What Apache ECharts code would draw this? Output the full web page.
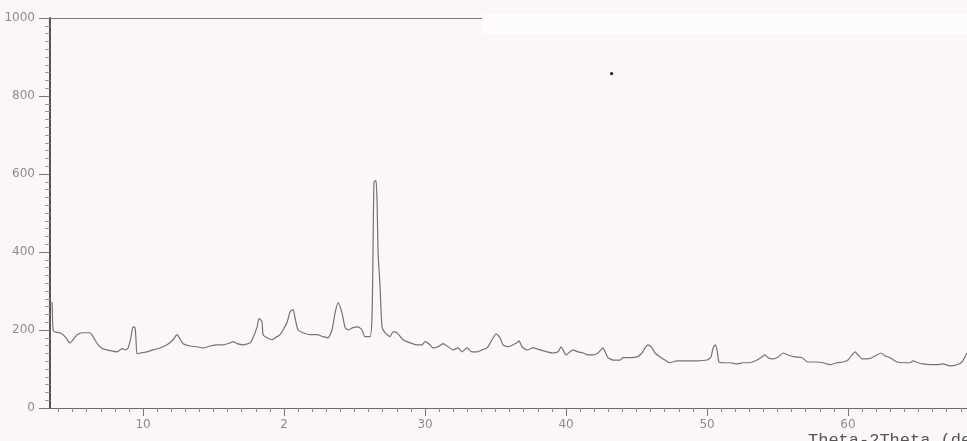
<!DOCTYPE html>
<html><head><meta charset="utf-8">
<script src="https://cdn.jsdelivr.net/npm/echarts@6/dist/echarts.min.js"></script>
<style>html,body{margin:0;padding:0;background:#fbf7f7;overflow:hidden}#c{width:967px;height:441px}</style>
</head><body><div id="c"></div>
<script>
const twoTheta = [3.55,3.62,3.76,4.11,4.47,4.82,5.04,5.32,5.74,6.24,6.45,6.81,7.16,7.66,8.16,8.51,8.72,8.94,9.15,9.29,9.43,9.50,9.57,9.79,10.28,10.71,11.21,11.70,12.13,12.41,12.62,12.84,13.33,13.83,14.26,14.75,15.25,15.67,16.17,16.38,16.67,17.09,17.59,17.80,18.09,18.23,18.44,18.51,18.79,19.15,19.50,19.72,19.93,20.21,20.43,20.64,20.78,20.99,21.35,21.84,22.34,22.77,23.12,23.40,23.62,23.83,24.11,24.33,24.54,24.89,25.25,25.53,25.74,26.10,26.24,26.31,26.38,26.52,26.60,26.67,26.81,26.95,27.16,27.52,27.73,28.01,28.44,28.94,29.43,29.79,30.00,30.35,30.57,30.92,31.28,31.63,31.99,32.34,32.62,32.98,33.33,33.69,34.04,34.40,34.75,35.04,35.32,35.53,35.89,36.24,36.52,36.67,36.88,37.23,37.66,38.16,38.65,39.08,39.43,39.65,39.79,40.00,40.28,40.50,40.85,41.21,41.56,41.91,42.27,42.62,42.77,42.98,43.33,43.83,44.04,44.54,45.04,45.39,45.60,45.82,46.10,46.31,46.67,47.02,47.38,47.87,48.58,49.29,50.00,50.28,50.43,50.57,50.71,50.85,51.13,51.63,52.13,52.55,53.05,53.55,53.90,54.11,54.33,54.68,55.04,55.39,55.74,56.24,56.74,57.16,57.80,58.23,58.72,59.22,59.65,60.00,60.28,60.50,60.71,60.99,61.35,61.70,62.06,62.34,62.62,62.98,63.48,63.90,64.40,64.61,64.96,65.32,65.82,66.31,66.74,67.23,67.73,68.09,68.30,68.44];
const intensity = [272,200,195,193,183,167,175,188,193,193,183,162,152,147,144,152,149,154,183,208,206,175,139,141,144,149,154,162,175,188,177,165,159,157,154,159,162,162,167,170,165,162,167,180,208,229,221,188,180,175,183,188,200,219,247,252,231,200,193,188,188,183,180,200,244,270,244,206,200,206,208,200,183,183,234,398,578,584,527,398,311,208,193,183,195,193,175,167,162,162,170,162,154,157,165,157,149,154,144,154,144,144,149,154,175,190,180,162,157,162,167,172,157,149,154,149,144,141,144,157,149,136,144,149,144,141,136,136,141,154,144,129,123,123,129,129,131,141,154,162,154,141,131,123,116,121,121,121,123,131,154,162,149,118,116,116,113,116,116,123,131,136,129,126,131,141,136,131,129,118,118,116,111,116,118,123,136,144,136,126,126,129,136,141,134,129,118,116,116,121,116,113,111,111,113,108,111,118,131,141];
const xMajorTicks = [10,20,30,40,50,60];
const xMajorLabels = ['10','2','30','40','50','60'];
const xMinorTicks = [4,5,6,7,8,9,10,11,12,13,14,15,16,17,18,19,20,21,22,23,24,25,26,27,28,29,30,31,32,33,34,35,36,37,38,39,40,41,42,43,44,45,46,47,48,49,50,51,52,53,54,55,56,57,58,59,60,61,62,63,64,65,66,67,68];
const yTickLabels = ['0','200','400','600','800','1000'];
const axisTitle = 'Theta-2Theta (deg)';

const X_MIN = 3.4, X_MAX = 68.44;
const chart = echarts.init(document.getElementById('c'), null, {renderer: 'canvas'});
const labelStyle = {color: '#8c8c8c', fontFamily: 'DejaVu Sans', fontSize: 12};
chart.setOption({
  backgroundColor: '#fbf7f7',
  animation: false,
  grid: {left: 50, right: 0, top: 18, bottom: 33},
  xAxis: [
    {type: 'value', min: X_MIN, max: X_MAX, position: 'bottom',
     axisLine: {lineStyle: {color: '#6a6a6a', width: 1.2}},
     axisTick: {show: true, customValues: xMinorTicks, length: 4, lineStyle: {color: '#8a8a8a'}},
     axisLabel: {show: false}, splitLine: {show: false}},
    {type: 'value', min: X_MIN, max: X_MAX, position: 'bottom',
     axisLine: {show: false},
     axisTick: {show: true, customValues: xMajorTicks, length: 8, lineStyle: {color: '#777'}},
     axisLabel: Object.assign({customValues: xMajorTicks, margin: 11,
       formatter: v => xMajorLabels[xMajorTicks.indexOf(v)]}, labelStyle),
     splitLine: {show: false}},
    {type: 'value', min: X_MIN, max: X_MAX, position: 'top',
     axisLine: {lineStyle: {color: '#7a7a7a', width: 1.2}},
     axisTick: {show: false}, axisLabel: {show: false}, splitLine: {show: false}}
  ],
  yAxis: {
    type: 'value', min: 0, max: 1000, interval: 200,
    axisLine: {show: true, lineStyle: {color: '#555', width: 2}},
    axisTick: {show: true, length: 11, lineStyle: {color: '#777'}},
    minorTick: {show: true, splitNumber: 10, length: 5, lineStyle: {color: '#999'}},
    axisLabel: Object.assign({margin: 15, formatter: (v) => yTickLabels[Math.round(v / 200)]}, labelStyle),
    splitLine: {show: false}
  },
  series: [{
    type: 'line', xAxisIndex: 0, showSymbol: false, symbol: 'none', smooth: 0.2,
    lineStyle: {color: '#737373', width: 1.2},
    data: twoTheta.map((t, i) => [t, intensity[i]])
  }],
  graphic: [
    {type: 'rect', left: 482, top: 14, shape: {width: 485, height: 20}, style: {fill: '#fdfbfb'}, z: 100},
    {type: 'circle', left: 610, top: 72, shape: {r: 1.6}, style: {fill: '#222'}, z: 100},
    {type: 'text', left: 808, top: 432, style: {text: axisTitle, fill: '#555', font: '17px "Liberation Mono"'}, z: 100}
  ]
});
</script>
</body></html>
